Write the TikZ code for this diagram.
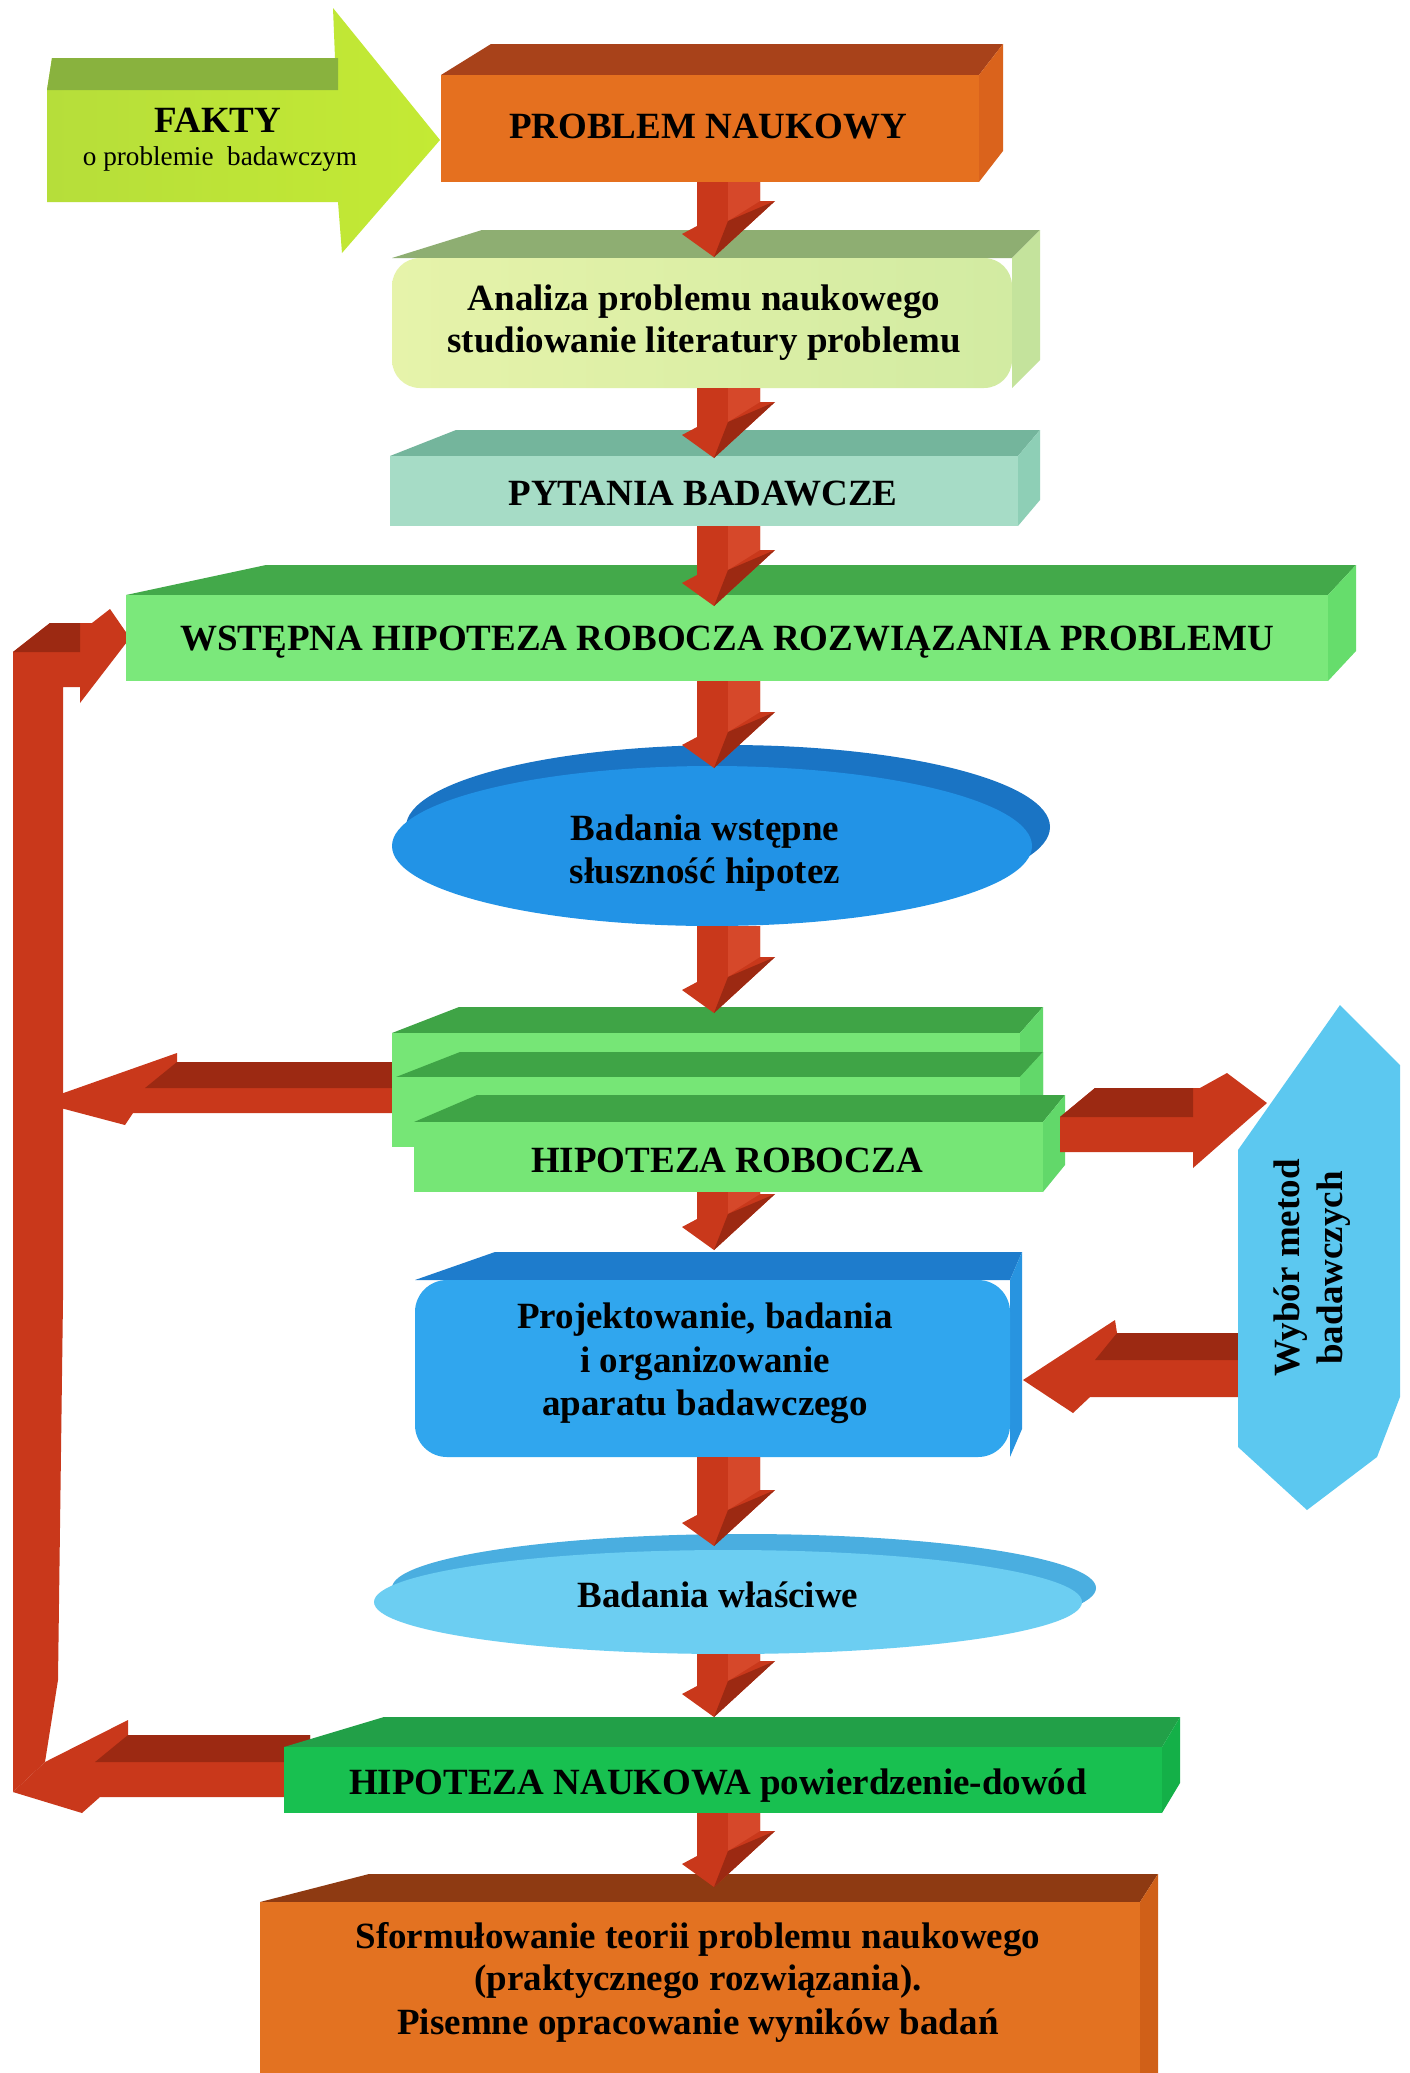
\documentclass[tikz,border=0pt]{standalone}
\usepackage{fontspec}
\setmainfont{Liberation Serif}

% palette
\definecolor{arrM}{HTML}{C9381B}
\definecolor{arrD}{HTML}{9C2912}
\definecolor{arrL}{HTML}{D6482A}
\definecolor{faktL}{HTML}{B6DE3A}
\definecolor{faktM}{HTML}{EEF824}
\definecolor{faktR}{HTML}{C4EA34}
\definecolor{faktT}{HTML}{89B23E}
\definecolor{probF}{HTML}{E5701F}
\definecolor{probT}{HTML}{A8421A}
\definecolor{probS}{HTML}{DA631C}
\definecolor{anaF}{HTML}{E6F3AA}
\definecolor{anaF2}{HTML}{D2EBA2}
\definecolor{anaT}{HTML}{8EAE72}
\definecolor{anaS}{HTML}{C4E39C}
\definecolor{pytF}{HTML}{A6DCC6}
\definecolor{pytT}{HTML}{74B59C}
\definecolor{pytS}{HTML}{8ECFB6}
\definecolor{wstF}{HTML}{7BE87B}
\definecolor{wstT}{HTML}{43A94A}
\definecolor{wstS}{HTML}{66DD6C}
\definecolor{eaF}{HTML}{2293E6}
\definecolor{eaT}{HTML}{1A74C4}
\definecolor{hrF}{HTML}{76E676}
\definecolor{hrT}{HTML}{3FA446}
\definecolor{hrS}{HTML}{62D86A}
\definecolor{projF}{HTML}{30A6EE}
\definecolor{projT}{HTML}{1E7CCC}
\definecolor{projS}{HTML}{2894E0}
\definecolor{ebF}{HTML}{6CCEF2}
\definecolor{ebT}{HTML}{4AAEE0}
\definecolor{hnF}{HTML}{18C050}
\definecolor{hnT}{HTML}{22A048}
\definecolor{hnS}{HTML}{14B048}
\definecolor{finF}{HTML}{E37221}
\definecolor{finT}{HTML}{8E3A12}
\definecolor{finS}{HTML}{D06018}
\definecolor{hexC}{HTML}{5CC8F0}

\tikzset{
  prob front/.style={fill=probF}, prob top/.style={fill=probT}, prob side/.style={fill=probS},
  ana front/.style={left color=anaF, right color=anaF2}, ana top/.style={fill=anaT}, ana side/.style={fill=anaS},
  pyt front/.style={fill=pytF}, pyt top/.style={fill=pytT}, pyt side/.style={fill=pytS},
  wst front/.style={fill=wstF}, wst top/.style={fill=wstT}, wst side/.style={fill=wstS},
  hr front/.style={fill=hrF}, hr top/.style={fill=hrT}, hr side/.style={fill=hrS},
  proj front/.style={fill=projF}, proj top/.style={fill=projT}, proj side/.style={fill=projS},
  hn front/.style={fill=hnF}, hn top/.style={fill=hnT}, hn side/.style={fill=hnS},
  fin front/.style={fill=finF}, fin top/.style={fill=finT}, fin side/.style={fill=finS},
  lbl/.style={font=\fontsize{18.5}{21.5}\selectfont\bfseries, inner sep=0pt, anchor=base},
  sublbl/.style={font=\fontsize{13.6}{16}\selectfont, inner sep=0pt, anchor=base},
}

% block seen from above-right: front x1,y1,x2,y2; top face depth d, back shifts dl (left) and dr (right)
\newcommand{\slabblock}[9]{%
  \path[#8 top] (#1,#2) -- (#1+#5,#2-#7) -- (#3+#6,#2-#7) -- (#3,#2) -- cycle;
  \path[#8 side] (#3,#2) -- (#3+#6,#2-#7) -- (#3+#6,#4-#7) -- (#3,#4) -- cycle;
  \path[#8 front,#9] (#1,#2) rectangle (#3,#4);
}

% 3D block arrow pointing down, from y=#1 to its tip at y=#2
\newcommand{\flowdown}[2]{%
  \fill[arrM] (697,#1) -- (760,#1) -- (760,#2-56) -- (775,#2-56) -- (714,#2) -- (682,#2-23) -- (697,#2-31) -- cycle;
  \fill[arrL] (728,#1) -- (760,#1) -- (760,#2-56) -- (728,#2-36) -- cycle;
  \fill[arrD] (728,#2-36) -- (775,#2-56) -- (714,#2) -- cycle;
}

\begin{document}
\begin{tikzpicture}[x=0.5pt,y=-0.5pt]
\useasboundingbox (0,0) rectangle (1409,2073);
\clip (0,0) rectangle (1409,2073);
\fill[white] (0,0) rectangle (1409,2073);

% feedback loop on the left
\fill[arrM] (13,1792) -- (13,652) -- (50,623) -- (92,623) -- (110,609) -- (130,638) -- (80,703) -- (80,687) -- (63,687) -- (63,1300) -- (58,1680) -- (45,1762) -- cycle;
\fill[arrD] (13,652) -- (50,623) -- (80,623) -- (80,652) -- cycle;

% arrow from the working hypothesis back to the loop
\fill[arrM] (395,1062) -- (177,1062) -- (177,1053) -- (38,1102) -- (125,1125) -- (133,1113) -- (395,1113) -- cycle;
\fill[arrD] (395,1062) -- (177,1062) -- (145,1088) -- (395,1088) -- cycle;

% arrow from the scientific hypothesis back to the loop
\fill[arrM] (310,1735) -- (128,1735) -- (128,1720) -- (45,1762) -- (13,1792) -- (82,1813) -- (100,1797) -- (310,1797) -- cycle;
\fill[arrD] (310,1735) -- (128,1735) -- (95,1762) -- (310,1762) -- cycle;

% arrow from the methods panel to the design block
\fill[arrM] (1245,1333) -- (1117,1333) -- (1115,1320) -- (1023,1380) -- (1073,1413) -- (1090,1397) -- (1245,1397) -- cycle;
\fill[arrD] (1245,1333) -- (1117,1333) -- (1095,1360) -- (1245,1360) -- cycle;

% FAKTY arrow
\shade[left color=faktL, middle color=faktM, right color=faktR]
  (47,90) -- (52,58) -- (335,58) -- (333,8) -- (440,140) -- (342,253) -- (338,202) -- (47,202) -- cycle;
\fill[faktT] (47,90) -- (52,58) -- (338,58) -- (338,90) -- cycle;

% blocks
\slabblock{441}{75}{979}{182}{50}{24}{31}{prob}{}
\slabblock{392}{258}{1012}{388}{90}{28}{28}{ana}{rounded corners=14}
\slabblock{390}{456}{1018}{526}{66}{22}{26}{pyt}{}
\slabblock{126}{595}{1328}{681}{140}{28}{30}{wst}{}

% preliminary research disc
\fill[eaT] (728,827) ellipse [x radius=322, y radius=82];
\fill[eaF] (712,846) ellipse [x radius=320, y radius=80];

% stacked working-hypothesis slabs
\slabblock{392}{1033}{1020}{1147}{67}{23}{26}{hr}{}
\slabblock{396}{1077}{1020}{1147}{64}{23}{25}{hr}{}
\slabblock{414}{1122}{1043}{1192}{63}{22}{27}{hr}{}

\slabblock{415}{1280}{1010}{1457}{80}{12}{28}{proj}{rounded corners=16}

% methods panel
\fill[hexC] (1238,1150) -- (1340,1005) -- (1400,1065) -- (1400,1397) -- (1377,1457) -- (1307,1510) -- (1238,1447) -- cycle;

% arrow from the working hypothesis to the methods panel
\fill[arrM] (1060,1117) -- (1095,1088) -- (1200,1088) -- (1227,1073) -- (1267,1103) -- (1193,1168) -- (1193,1152) -- (1060,1152) -- cycle;
\fill[arrD] (1060,1117) -- (1095,1088) -- (1193,1088) -- (1193,1117) -- cycle;

% proper research disc
\fill[ebT] (744,1588) ellipse [x radius=352, y radius=54];
\fill[ebF] (728,1602) ellipse [x radius=354, y radius=52];

\slabblock{284}{1747}{1162}{1813}{100}{18}{30}{hn}{}
\slabblock{260}{1902}{1140}{2130}{109}{18}{28}{fin}{}

% downward flow
\flowdown{182}{257}
\flowdown{388}{458}
\flowdown{526}{606}
\flowdown{681}{768}
\flowdown{926}{1013}
\flowdown{1192}{1250}
\flowdown{1457}{1546}
\flowdown{1654}{1717}
\flowdown{1813}{1887}

% labels
\node[lbl] (fakty) at (218,132) {FAKTY};
\node[sublbl] (faktysub) at (220,165) {o problemie\ \ badawczym};
\node[lbl] (prob) at (708,138) {PROBLEM NAUKOWY};
\node[lbl] (ana1) at (704,310) {Analiza problemu naukowego};
\node[lbl] (ana2) at (704,352) {studiowanie literatury problemu};
\node[lbl] (pyt) at (703,505) {PYTANIA BADAWCZE};
\node[lbl] (wst) at (727,650) {WSTĘPNA HIPOTEZA ROBOCZA ROZWIĄZANIA PROBLEMU};
\node[lbl] (bw1) at (705,840) {Badania wstępne};
\node[lbl] (bw2) at (705,883) {słuszność hipotez};
\node[lbl] (hr) at (727,1172) {HIPOTEZA ROBOCZA};
\node[lbl] (pr1) at (705,1328) {Projektowanie, badania};
\node[lbl] (pr2) at (705,1372) {i organizowanie};
\node[lbl] (pr3) at (705,1415) {aparatu badawczego};
\node[lbl] (bwl) at (718,1607) {Badania właściwe};
\node[lbl] (hn) at (718,1794) {HIPOTEZA NAUKOWA powierdzenie-dowód};
\node[lbl] (fin1) at (698,1948) {Sformułowanie teorii problemu naukowego};
\node[lbl] (fin2) at (698,1990) {(praktycznego rozwiązania).};
\node[lbl] (fin3) at (698,2034) {Pisemne opracowanie wyników badań};
\node[lbl, anchor=center, align=center, rotate=90] (wyb) at (1312,1268) {Wybór metod\\badawczych};
\end{tikzpicture}
\end{document}
